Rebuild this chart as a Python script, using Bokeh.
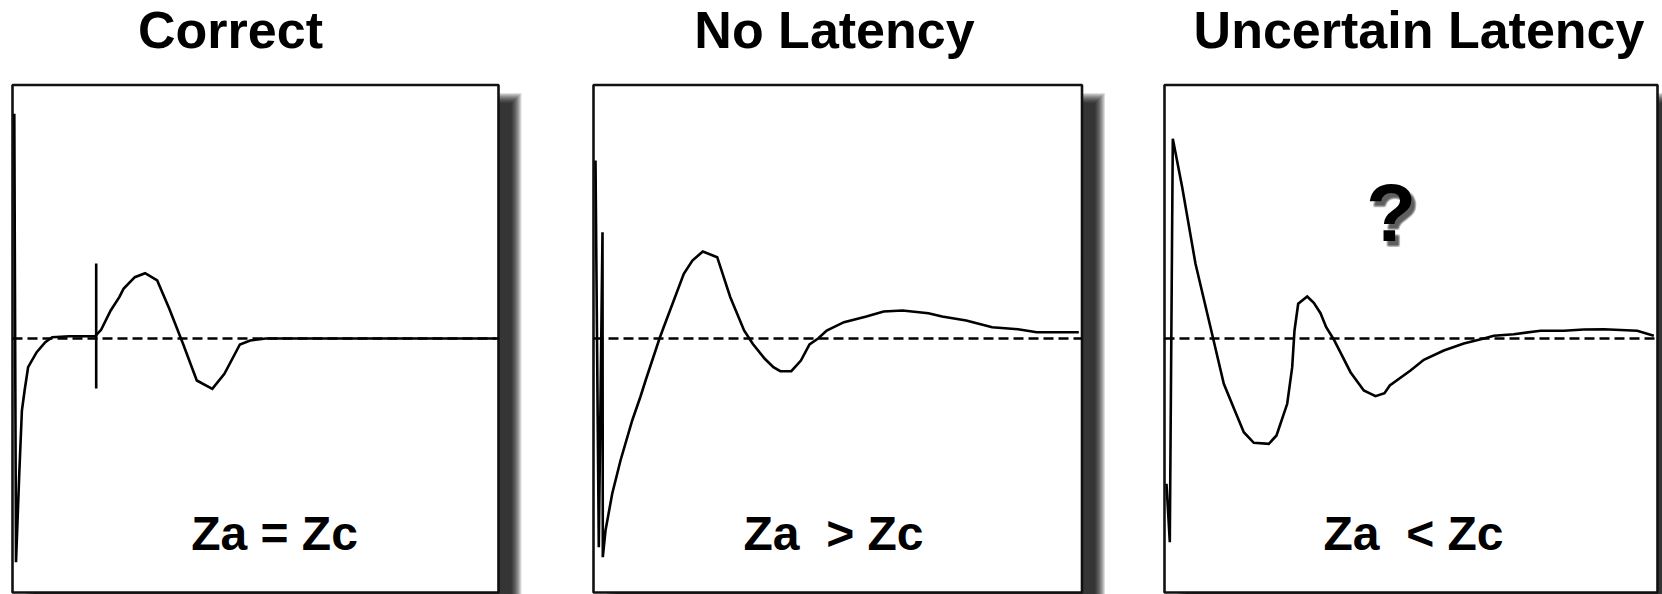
from bokeh.plotting import figure
from bokeh.layouts import row
from bokeh.models import Range1d
from bokeh.core.properties import value
from bokeh.embed import file_html
from bokeh.resources import INLINE

# ---- content -------------------------------------------------------------
titles = ["Correct", "No Latency", "Uncertain Latency"]
# non-breaking space keeps the wide gap before the relation sign in SVG
relations = ["Za = Zc", "Za\u00a0 > Zc", "Za\u00a0 < Zc"]

# Response traces: t = time along the sweep, v = deflection from the baseline
correct_t = [1.8, 3.5, 6.9, 9.4, 12.1, 15.6, 24.2, 32.8, 39.7, 56.9, 82.7, 88.6,
             98.2, 106.8, 111.0, 122.3, 132.6, 144.7, 156.8, 170.5, 184.3, 199.8,
             211.9, 227.4, 237.7, 253.2, 484.0]
correct_v = [224.7, -223.7, -132.0, -72.0, -52.0, -28.7, -13.7, -3.7, 1.3, 2.3, 2.3, 8.7,
             28.0, 41.3, 49.7, 61.3, 65.3, 58.0, 29.7, -5.3, -42.0, -50.3,
             -35.3, -6.0, -2.0, 0.0, 0.0]

nolat_t = [2.0, 5.3, 9.0, 9.3, 12.0, 18.7, 27.0, 38.7, 47.0, 52.4, 66.0, 69.7, 90.3,
           98.9, 109.3, 123.7, 136.8, 150.6, 159.2, 171.3, 179.9, 186.8, 197.8,
           207.4, 216.0, 224.6, 233.2, 250.5, 272.9, 290.1, 309.0, 334.9, 348.6,
           372.7, 398.6, 424.4, 443.3, 485.3]
nolat_v = [178.0, -208.7, 106.3, -218.7, -192.0, -155.3, -122.0, -82.0, -58.0, -41.0,
           0.0, 10.0, 64.7, 78.0, 87.0, 81.3, 41.3, 8.0, -5.3, -20.3, -28.7, -32.7,
           -32.7, -22.0, -6.0, 0.0, 8.0, 16.3, 22.0, 27.0, 28.0, 25.3, 22.0, 18.0,
           11.3, 9.3, 6.3, 6.3]

uncert_t = [2.0, 5.3, 8.3, 17.7, 31.0, 46.0, 59.3, 71.0, 79.3, 89.3, 104.3, 112.0,
            122.7, 127.7, 130.0, 133.7, 142.7, 149.3, 156.0, 161.7, 169.3, 186.0,
            199.3, 211.0, 220.0, 225.3, 246.0, 259.3, 279.3, 299.3, 319.3, 329.3,
            349.3, 376.0, 399.3, 419.3, 439.3, 472.7, 489.3]
uncert_v = [-145.3, -203.7, 199.7, 151.3, 74.7, 11.3, -45.3, -73.7, -93.7, -104.3,
            -105.3, -97.0, -65.3, -28.7, 8.0, 34.7, 42.0, 35.7, 25.3, 11.3, -1.0,
            -33.7, -52.0, -57.7, -54.7, -47.0, -32.0, -21.3, -12.0, -5.0, 0.0, 2.7,
            4.3, 7.7, 7.7, 9.0, 9.3, 7.7, 2.7]

# latency marker on the correct trace
marker_t = [83.7, 83.7]
marker_v = [75.0, -50.0]

traces = [(correct_t, correct_v), (nolat_t, nolat_v), (uncert_t, uncert_v)]

# ---- layout --------------------------------------------------------------
FIG_H = 594
V_TOP, V_BOTTOM = 338, 338 - FIG_H          # baseline sits 338px below the top
fig_widths = [545, 575, 542]
x_starts = [-12, -48, -44]                  # box left edge relative to panel left
box_widths = [486, 488.5, 493]
BOX_TOP, BOX_BOTTOM = 253.5, -254
title_x = [218, 241, 254.5]
label_x = [262, 240, 249]
TITLE_Y, LABEL_Y = 290, -212
SHADOW_DX, SHADOW_DY, SHADOW_BLUR = 18, 13, 5
LW = 2.6

TITLE_SIZE, LABEL_SIZE, Q_SIZE = 52, 48, 82
BASE_SHIFT = 0.354                           # svg text sits this many em low

FONT = value("Liberation Sans")


def bold_text(p, x, y, txt, size, **kw):
    p.text(x=[x], y=[y + BASE_SHIFT * size], text=[txt], text_font=FONT,
           text_font_style="bold", text_font_size=value(f"{size}px"),
           text_align="center", text_baseline="alphabetic", **kw)


panels = []
for i in range(3):
    w = fig_widths[i]
    p = figure(width=w, height=FIG_H, output_backend="svg", toolbar_location=None,
               x_range=Range1d(x_starts[i], x_starts[i] + w),
               y_range=Range1d(V_BOTTOM, V_TOP),
               x_axis_type=None, y_axis_type=None, min_border=0)
    p.grid.visible = False
    p.outline_line_color = None
    p.background_fill_color = "white"
    p.border_fill_color = "white"

    bw = box_widths[i]
    # soft drop shadow: stacked translucent rectangles
    for k in range(-SHADOW_BLUR, SHADOW_BLUR + 1):
        p.quad(left=[SHADOW_DX - k], right=[bw + SHADOW_DX + k],
               top=[BOX_TOP - SHADOW_DY + k], bottom=[BOX_BOTTOM - SHADOW_DY - k],
               fill_color="black", fill_alpha=0.13, line_color=None)
    # frame box
    p.quad(left=[0], right=[bw], top=[BOX_TOP], bottom=[BOX_BOTTOM],
           fill_color="white", line_color="#111111", line_width=LW)
    # dashed baseline
    p.line([0, bw], [0, 0], line_color="black", line_width=LW, line_dash="10 5")
    # trace
    t, v = traces[i]
    p.line(t, v, line_color="black", line_width=LW, line_join="miter")
    if i == 0:
        p.line(marker_t, marker_v, line_color="black", line_width=LW)

    bold_text(p, title_x[i], TITLE_Y, titles[i], TITLE_SIZE, text_color="black")
    bold_text(p, label_x[i], LABEL_Y, relations[i], LABEL_SIZE, text_color="black")

    if i == 2:
        qx, qy = 226.5, 96.5
        for dx in (3, 4, 5):
            for dy in (-4, -5, -6):
                bold_text(p, qx + dx, qy + dy, "?", Q_SIZE,
                          text_color="black", text_alpha=0.1)
        bold_text(p, qx, qy, "?", Q_SIZE, text_color="black")
    panels.append(p)

layout = row(*panels, spacing=0)
open("out.html", "w").write(file_html(layout, INLINE))
